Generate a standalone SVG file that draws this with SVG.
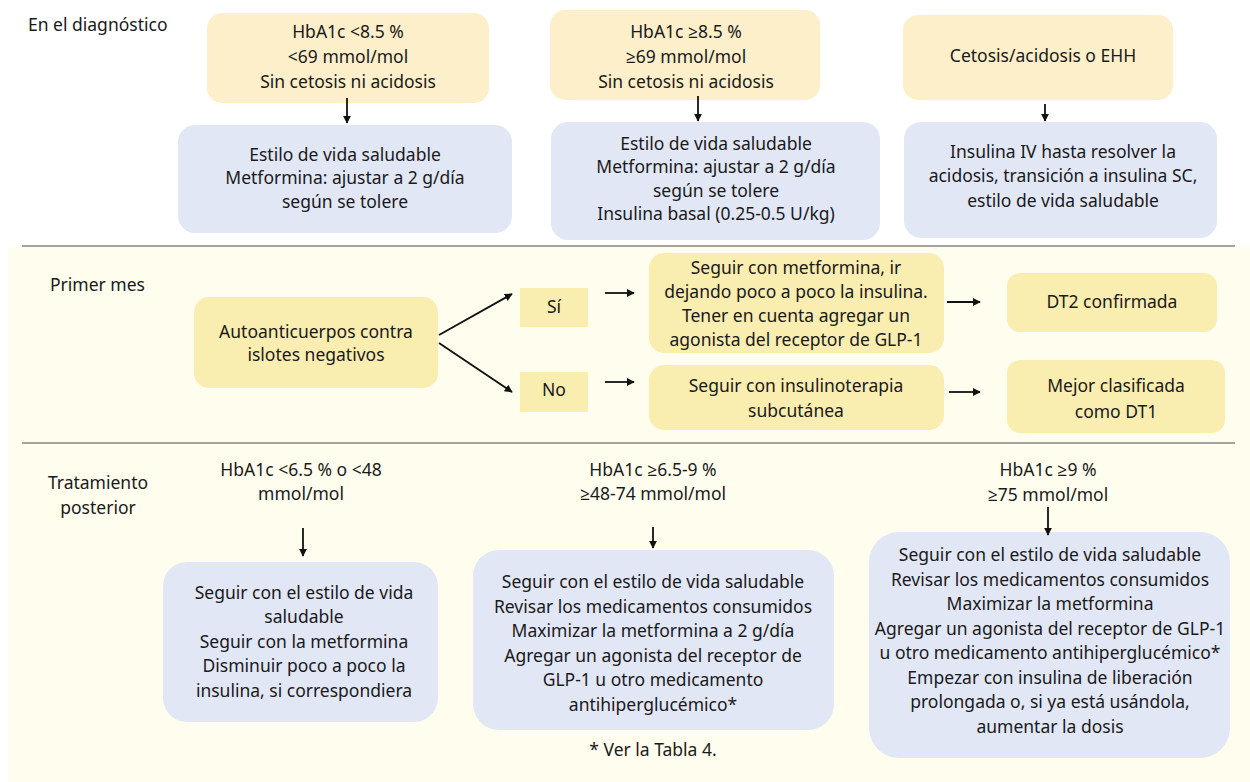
<svg xmlns="http://www.w3.org/2000/svg" width="1250" height="782" viewBox="0 0 1250 782">
<defs>
<marker id="ah" viewBox="0 0 10 10" refX="9" refY="5" markerWidth="8" markerHeight="8" markerUnits="userSpaceOnUse" orient="auto">
<path d="M0,0 L10,5 L0,10 z" fill="#111"/>
</marker>
<style>
text{font-family:"Noto Sans","Open Sans",sans-serif;font-size:17.5px;fill:#1a1a1a;text-anchor:middle}
.lbl{text-anchor:start}
.y1{fill:#fcefca}
.y2{fill:#faedb0}
.b{fill:#e2e7f6}
.sep{stroke:#858585;stroke-width:1.5}
.conn line{stroke:#111;stroke-width:1.8;marker-end:url(#ah)}
</style>
</defs>
<rect x="0" y="0" width="1250" height="782" fill="#ffffff"/>
<rect x="8" y="247" width="1242" height="535" fill="#fffdee"/>
<line class="sep" x1="22" y1="246" x2="1235" y2="246"/>
<line class="sep" x1="22" y1="443" x2="1235" y2="443"/>

<g id="labels">
<text class="lbl" x="28" y="31">En el diagnóstico</text>
<text class="lbl" x="50" y="291">Primer mes</text>
<text x="98" y="489">Tratamiento</text>
<text x="98" y="514">posterior</text>
</g>

<g id="diagA">
<rect class="y1" x="207" y="13" width="282" height="90" rx="15"/>
<text x="348" y="38">HbA1c &lt;8.5 %</text>
<text x="348" y="63">&lt;69 mmol/mol</text>
<text x="348" y="88">Sin cetosis ni acidosis</text>
</g>
<g id="treatA">
<rect class="b" x="178" y="125" width="334" height="108" rx="17"/>
<text x="345" y="161">Estilo de vida saludable</text>
<text x="345" y="184">Metformina: ajustar a 2 g/día</text>
<text x="345" y="208">según se tolere</text>
</g>
<g id="diagB">
<rect class="y1" x="550" y="10" width="270" height="90" rx="15"/>
<text x="686" y="38">HbA1c ≥8.5 %</text>
<text x="686" y="63">≥69 mmol/mol</text>
<text x="686" y="88">Sin cetosis ni acidosis</text>
</g>
<g id="treatB">
<rect class="b" x="551" y="122" width="329" height="118" rx="17"/>
<text x="716" y="150">Estilo de vida saludable</text>
<text x="716" y="173">Metformina: ajustar a 2 g/día</text>
<text x="716" y="197">según se tolere</text>
<text x="716" y="220">Insulina basal (0.25-0.5 U/kg)</text>
</g>
<g id="diagC">
<rect class="y1" x="903" y="15" width="270" height="85" rx="15"/>
<text x="1043" y="62">Cetosis/acidosis o EHH</text>
</g>
<g id="treatC">
<rect class="b" x="904" y="122" width="313" height="116" rx="17"/>
<text x="1063" y="158">Insulina IV hasta resolver la</text>
<text x="1063" y="182">acidosis, transición a insulina SC,</text>
<text x="1063" y="207">estilo de vida saludable</text>
</g>

<g id="auto">
<rect class="y2" x="194" y="297" width="244" height="91" rx="15"/>
<text x="316" y="338">Autoanticuerpos contra</text>
<text x="316" y="361">islotes negativos</text>
</g>
<g id="si">
<rect class="y2" x="520" y="288" width="68" height="39"/>
<text x="554" y="313">Sí</text>
</g>
<g id="no">
<rect class="y2" x="520" y="372" width="68" height="40"/>
<text x="554" y="396">No</text>
</g>
<g id="m1">
<rect class="y2" x="649" y="253" width="295" height="100" rx="15"/>
<text x="796" y="274">Seguir con metformina, ir</text>
<text x="796" y="298">dejando poco a poco la insulina.</text>
<text x="796" y="322">Tener en cuenta agregar un</text>
<text x="796" y="346">agonista del receptor de GLP-1</text>
</g>
<g id="m2">
<rect class="y2" x="649" y="365" width="295" height="65" rx="15"/>
<text x="796" y="392">Seguir con insulinoterapia</text>
<text x="796" y="417">subcutánea</text>
</g>
<g id="dt2">
<rect class="y2" x="1007" y="273" width="210" height="59" rx="13"/>
<text x="1112" y="308">DT2 confirmada</text>
</g>
<g id="dt1">
<rect class="y2" x="1007" y="360" width="218" height="73" rx="13"/>
<text x="1116" y="392">Mejor clasificada</text>
<text x="1116" y="418">como DT1</text>
</g>

<g id="hbL">
<text x="301" y="476">HbA1c &lt;6.5 % o &lt;48</text>
<text x="301" y="500">mmol/mol</text>
</g>
<g id="treatL">
<rect class="b" x="163" y="562" width="275" height="160" rx="24"/>
<text x="304" y="599">Seguir con el estilo de vida</text>
<text x="304" y="623">saludable</text>
<text x="304" y="648">Seguir con la metformina</text>
<text x="304" y="672">Disminuir poco a poco la</text>
<text x="304" y="697">insulina, si correspondiera</text>
</g>
<g id="hbM">
<text x="653" y="476">HbA1c ≥6.5-9 %</text>
<text x="653" y="500">≥48-74 mmol/mol</text>
</g>
<g id="treatM">
<rect class="b" x="473" y="550" width="361" height="180" rx="26"/>
<text x="653" y="588">Seguir con el estilo de vida saludable</text>
<text x="653" y="613">Revisar los medicamentos consumidos</text>
<text x="653" y="637">Maximizar la metformina a 2 g/día</text>
<text x="653" y="662">Agregar un agonista del receptor de</text>
<text x="653" y="686">GLP-1 u otro medicamento</text>
<text x="653" y="711">antihiperglucémico*</text>
</g>
<text id="note" x="653" y="756">* Ver la Tabla 4.</text>
<g id="hbR">
<text x="1048" y="476">HbA1c ≥9 %</text>
<text x="1048" y="501">≥75 mmol/mol</text>
</g>
<g id="treatR">
<rect class="b" x="869" y="532" width="361" height="226" rx="30"/>
<text x="1050" y="561">Seguir con el estilo de vida saludable</text>
<text x="1050" y="586">Revisar los medicamentos consumidos</text>
<text x="1050" y="610">Maximizar la metformina</text>
<text x="1050" y="635">Agregar un agonista del receptor de GLP-1</text>
<text x="1050" y="659">u otro medicamento antihiperglucémico*</text>
<text x="1050" y="684">Empezar con insulina de liberación</text>
<text x="1050" y="708">prolongada o, si ya está usándola,</text>
<text x="1050" y="733">aumentar la dosis</text>
</g>

<g id="connectors" class="conn">
<line x1="347" y1="98" x2="347" y2="123"/>
<line x1="698" y1="96" x2="698" y2="121"/>
<line x1="1045" y1="104" x2="1045" y2="121"/>
<line x1="439" y1="335" x2="512" y2="294"/>
<line x1="439" y1="343" x2="512" y2="392"/>
<line x1="605" y1="293" x2="634" y2="293"/>
<line x1="605" y1="382" x2="634" y2="382"/>
<line x1="947" y1="302" x2="980" y2="302"/>
<line x1="949" y1="392" x2="980" y2="392"/>
<line x1="303" y1="528" x2="303" y2="556"/>
<line x1="653" y1="527" x2="653" y2="548"/>
<line x1="1048" y1="507" x2="1048" y2="535"/>
</g>
</svg>
